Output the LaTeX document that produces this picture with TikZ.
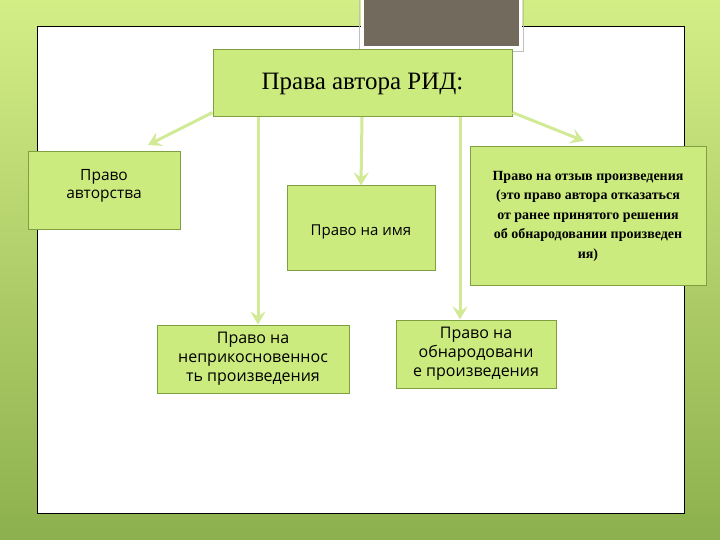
\documentclass[tikz,border=0pt]{standalone}
\usepackage{fontspec}
\setmainfont{Liberation Serif}
\newfontfamily\sansf{Open Sans}
\usetikzlibrary{arrows.meta}
\definecolor{boxg}{HTML}{CCEB7E}
\definecolor{boxd}{HTML}{7FA040}
\definecolor{arr}{HTML}{D2EA96}
\definecolor{bgtop}{HTML}{D4EE86}
\definecolor{bgbot}{HTML}{8DB04E}
\begin{document}
\begin{tikzpicture}[x=1pt,y=-1pt,
  gbox/.style={draw=boxd,line width=1pt,fill=boxg,inner sep=2pt,align=center},
  conn/.style={draw=arr,line width=3pt,-{Stealth[length=13pt,width=15pt,inset=5pt]}}]
\useasboundingbox (0,0) rectangle (720,540);
\shade[top color=bgtop,bottom color=bgbot] (0,0) rectangle (720,540);
\draw[black,line width=1pt,fill=white] (37,27) rectangle (684,513);
\draw[white,line width=3pt,fill={rgb,255:red,114;green,106;blue,92}] (362,-2) rectangle (520,48);
\draw[gray!50,line width=0.6pt] (359,-2) rectangle (523,51);
\node[gbox,minimum width=299pt,minimum height=67pt,font=\fontsize{25}{28}\selectfont] (top) at (362.5,83.5) {Права автора РИД:};
\node[gbox,minimum width=152pt,minimum height=78pt] (l) at (104,191) {};
\node[font=\sansf\fontsize{15.5}{18}\selectfont,align=center,anchor=north] (lt) at (l.north) [yshift=-14pt] {Право\\авторства};
\node[gbox,minimum width=148pt,minimum height=84pt] (m) at (361,228) {};
\node[font=\sansf\fontsize{15}{17}\selectfont] (mt) at (361,232) {Право на имя};
\node[gbox,minimum width=236pt,minimum height=138pt,font=\bfseries\fontsize{14}{19.5}\selectfont] (r) at (588,216) {Право на отзыв произведения\\(это право автора отказаться\\от ранее принятого решения\\об обнародовании произведен\\ия)};
\node[gbox,minimum width=192pt,minimum height=68pt,font=\sansf\fontsize{16}{19}\selectfont] (bl) at (253,359) {Право на\\неприкосновеннос\\ть произведения};
\node[gbox,minimum width=160pt,minimum height=68pt,font=\sansf\fontsize{16}{19}\selectfont] (bm) at (476,354) {Право на\\обнародовани\\е произведения};
\coordinate (a1) at (148,145);
\coordinate (a2) at (584,141);
\draw[conn] (top.south west) ++(0,-5) -- (a1);
\draw[conn] (top.south east) ++(0,-5) -- (a2);
\draw[conn] (258,117) -- (bl.north -| 258,0);
\draw[conn] (362,117) -- (m.north);
\draw[conn] (460,117) -- (bm.north -| 460,0);
\end{tikzpicture}
\end{document}
